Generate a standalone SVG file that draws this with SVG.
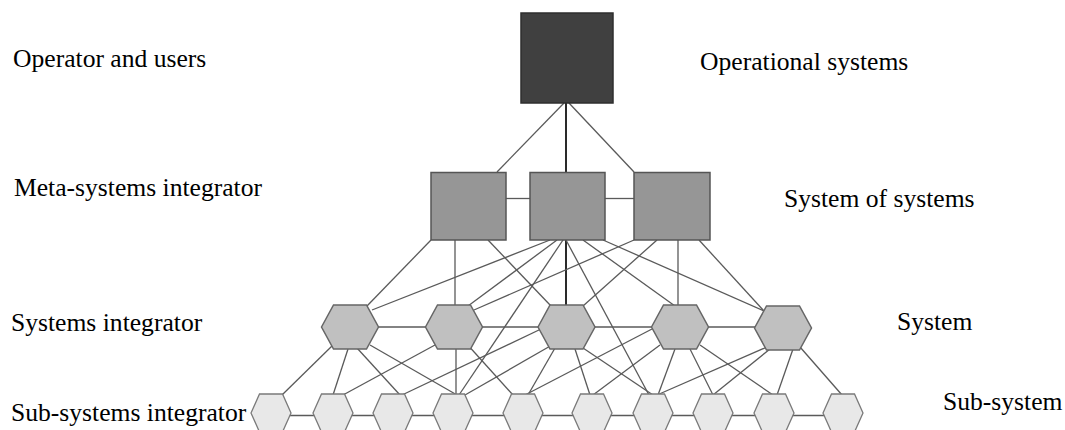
<svg xmlns="http://www.w3.org/2000/svg" width="1065" height="430" viewBox="0 0 1065 430">
<style>
.lbl{font-family:"Liberation Serif","Times New Roman",serif;font-size:25.6px;fill:#000}
.c{stroke:#5a5a5a;stroke-width:1.3;fill:none}
.ck{stroke:#2a2a2a;stroke-width:2;fill:none}
.top{fill:#404040;stroke:#2e2e2e;stroke-width:1.5}
.sos{fill:#969696;stroke:#555;stroke-width:1.5}
.sys{fill:#c0c0c0;stroke:#666;stroke-width:1.5}
.sub{fill:#e8e8e8;stroke:#7a7a7a;stroke-width:1.3}
</style>
<defs>
<polygon id="hexS" points="-28.5,0 -16.5,-22 16.5,-22 28.5,0 16.5,22 -16.5,22"/>
<polygon id="hexB" points="-20,0 -11.5,-19 11.5,-19 20,0 11.5,19 -11.5,19"/>
</defs>
<rect width="1065" height="430" fill="#fff"/>
<g id="connectors">
<line class="c" x1="564" y1="103" x2="497" y2="172"/>
<line class="ck" x1="566" y1="103" x2="566" y2="172"/>
<line class="c" x1="569" y1="103" x2="634" y2="172"/>
<line class="c" x1="506" y1="198.5" x2="530" y2="198.5"/>
<line class="c" x1="605" y1="198.5" x2="634" y2="198.5"/>
<line class="c" x1="431" y1="240" x2="367" y2="306"/>
<line class="c" x1="455" y1="240" x2="455" y2="305"/>
<line class="c" x1="488" y1="240" x2="551" y2="306"/>
<line class="c" x1="550" y1="240" x2="372" y2="310"/>
<line class="c" x1="557" y1="240" x2="468" y2="306"/>
<line class="ck" x1="566" y1="240" x2="566" y2="305"/>
<line class="c" x1="563" y1="240" x2="459" y2="395"/>
<line class="c" x1="566" y1="240" x2="649" y2="395"/>
<line class="c" x1="583" y1="240" x2="675" y2="306"/>
<line class="c" x1="603" y1="240" x2="764" y2="311"/>
<line class="c" x1="634" y1="240" x2="474" y2="310"/>
<line class="c" x1="657" y1="240" x2="583" y2="306"/>
<line class="c" x1="678" y1="240" x2="678" y2="305"/>
<line class="c" x1="699" y1="240" x2="764" y2="311"/>
<line class="c" x1="350" y1="327" x2="783" y2="327"/>
<line class="c" x1="271" y1="415.5" x2="843" y2="415.5"/>
<line class="c" x1="333" y1="345" x2="282" y2="395"/>
<line class="c" x1="348" y1="349" x2="333" y2="395"/>
<line class="c" x1="357" y1="348" x2="400" y2="395"/>
<line class="c" x1="370" y1="345" x2="457" y2="395"/>
<line class="c" x1="435" y1="345" x2="343" y2="395"/>
<line class="c" x1="456" y1="349" x2="456" y2="395"/>
<line class="c" x1="466" y1="343" x2="513" y2="395"/>
<line class="c" x1="541" y1="329" x2="402" y2="395"/>
<line class="c" x1="552" y1="345" x2="465" y2="395"/>
<line class="c" x1="555" y1="348" x2="528" y2="395"/>
<line class="c" x1="575" y1="349" x2="590" y2="395"/>
<line class="c" x1="583" y1="348" x2="653" y2="395"/>
<line class="c" x1="652" y1="329" x2="525" y2="395"/>
<line class="c" x1="660" y1="345" x2="593" y2="395"/>
<line class="c" x1="675" y1="349" x2="658" y2="395"/>
<line class="c" x1="690" y1="349" x2="713" y2="395"/>
<line class="c" x1="700" y1="345" x2="773" y2="395"/>
<line class="c" x1="767" y1="347" x2="657" y2="395"/>
<line class="c" x1="770" y1="349" x2="713" y2="395"/>
<line class="c" x1="793" y1="349" x2="777" y2="395"/>
<line class="c" x1="800" y1="347" x2="842" y2="395"/>
</g>
<g id="operational"><rect class="top" x="521" y="13" width="92" height="90"/></g>
<g id="sos-left"><rect class="sos" x="431" y="172.5" width="75" height="67.5"/></g>
<g id="sos-mid"><rect class="sos" x="530" y="172.5" width="75" height="67.5"/></g>
<g id="sos-right"><rect class="sos" x="634" y="172.5" width="76" height="67.5"/></g>
<g id="sys1"><use href="#hexS" class="sys" x="350" y="327"/></g>
<g id="sys2"><use href="#hexS" class="sys" x="454" y="327"/></g>
<g id="sys3"><use href="#hexS" class="sys" x="566.5" y="327"/></g>
<g id="sys4"><use href="#hexS" class="sys" x="680" y="327"/></g>
<g id="sys5"><use href="#hexS" class="sys" x="783" y="328"/></g>
<g id="sub1"><use href="#hexB" class="sub" x="271" y="413"/></g>
<g id="sub2"><use href="#hexB" class="sub" x="333" y="413"/></g>
<g id="sub3"><use href="#hexB" class="sub" x="393" y="413"/></g>
<g id="sub4"><use href="#hexB" class="sub" x="453" y="413"/></g>
<g id="sub5"><use href="#hexB" class="sub" x="523" y="413"/></g>
<g id="sub6"><use href="#hexB" class="sub" x="592" y="413"/></g>
<g id="sub7"><use href="#hexB" class="sub" x="653" y="413"/></g>
<g id="sub8"><use href="#hexB" class="sub" x="713" y="413"/></g>
<g id="sub9"><use href="#hexB" class="sub" x="774" y="413"/></g>
<g id="sub10"><use href="#hexB" class="sub" x="843" y="413"/></g>
<g id="labels">
<text class="lbl" x="13" y="67">Operator and users</text>
<text class="lbl" x="14" y="196">Meta-systems integrator</text>
<text class="lbl" x="11" y="331">Systems integrator</text>
<text class="lbl" x="11" y="421">Sub-systems integrator</text>
<text class="lbl" x="700" y="70">Operational systems</text>
<text class="lbl" x="784" y="207">System of systems</text>
<text class="lbl" x="897" y="330">System</text>
<text class="lbl" x="943" y="410">Sub-system</text>
</g>
</svg>
